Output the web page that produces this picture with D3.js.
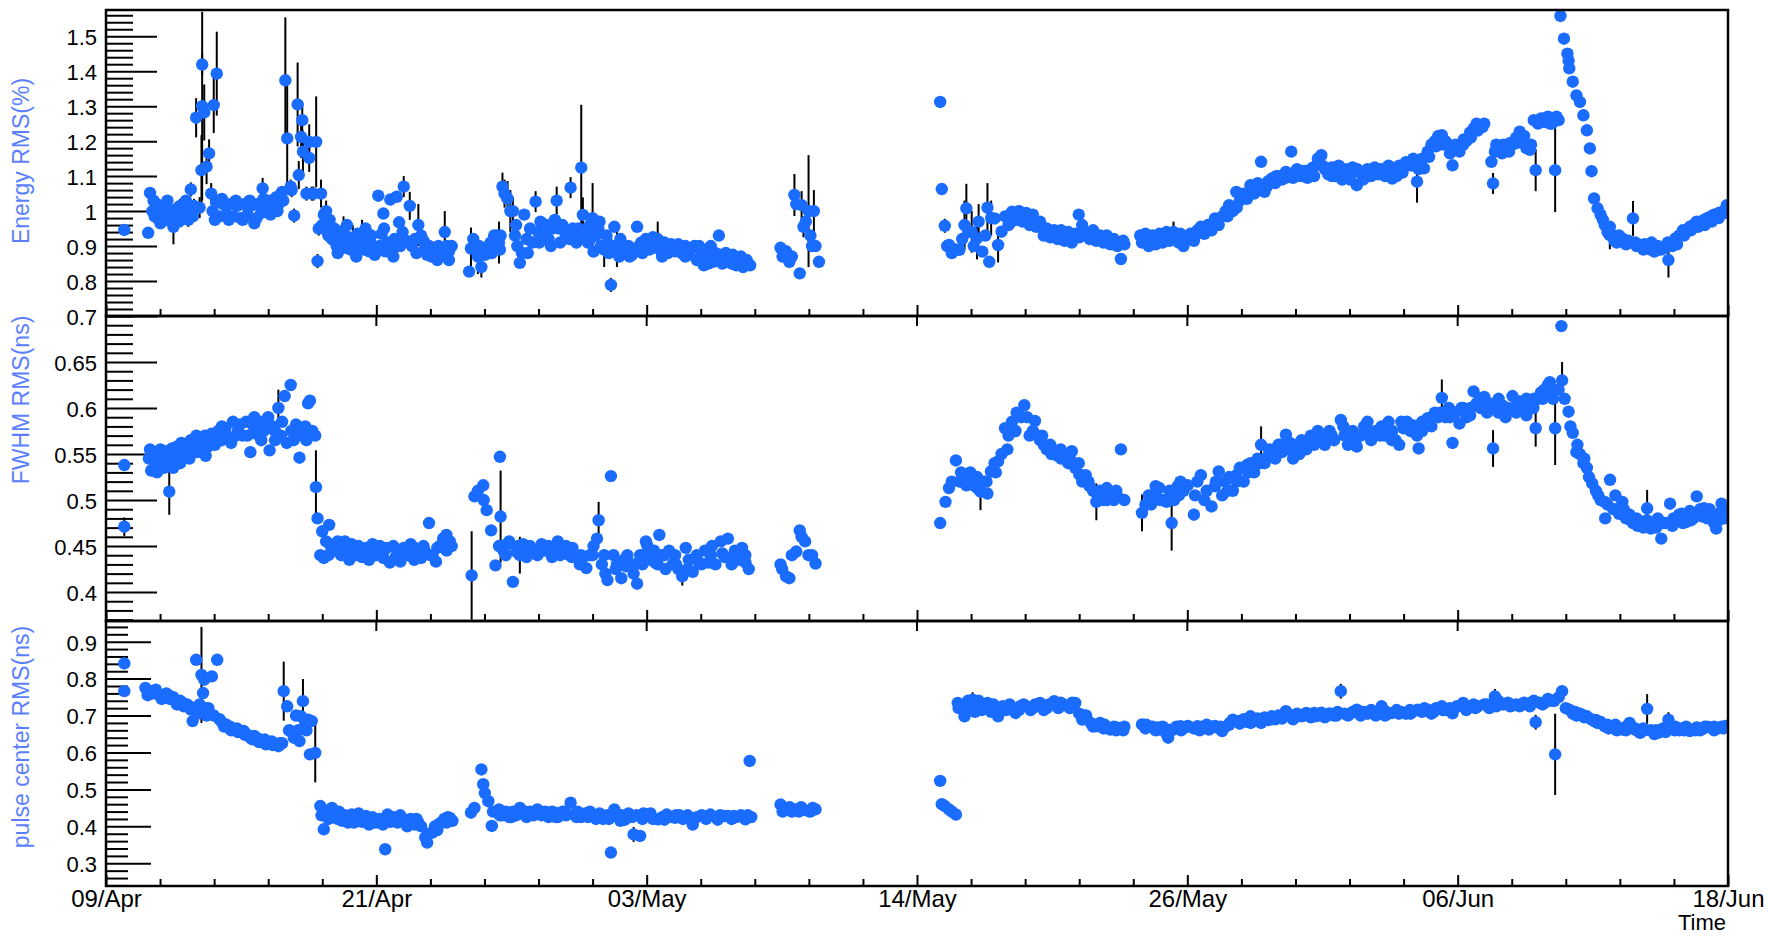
<!DOCTYPE html>
<html><head><meta charset="utf-8">
<script src="https://cdn.jsdelivr.net/npm/d3@7"></script>
<style>
body{margin:0;background:#fff}
svg{display:block}
text{font-family:"Liberation Sans",Arial,Helvetica,sans-serif}
</style>
</head><body>
<svg id="c" width="1768" height="937"></svg>
<script>
// ---- axis / label data ----
const xTickLabels = ["09/Apr","21/Apr","03/May","14/May","26/May","06/Jun","18/Jun"];
const xDomainDays = [0, 70];          // days since 09/Apr
const xTitle = "Time";
const energyTitle = "Energy RMS(%)";
const fwhmTitle = "FWHM RMS(ns)";
const pulseTitle = "pulse center RMS(ns)";
const energyTicks = [0.8,0.9,1,1.1,1.2,1.3,1.4,1.5];
const fwhmTicks = [0.4,0.45,0.5,0.55,0.6,0.65,0.7];
const pulseTicks = [0.3,0.4,0.5,0.6,0.7,0.8,0.9];
const energyRange = [0.7, 1.575];
const fwhmRange = [0.3685, 0.7];
const pulseRange = [0.2385, 0.956];

// ---- series: [day, value, error] ----
const energyRms = [
[0.79,0.946,0.01],[1.82,0.938,0.01],[1.90,1.052,0.01],[2.0,1.0,0.02],[2.1,0.985,0.02],[2.2,1.02,0.02],[2.3,1.0,0.02],[2.4,0.975,0.02],[2.5,1.01,0.02],[2.6,0.99,0.02],[2.73,1.0,0.02],[2.8,0.97,0.02],[2.91,0.955,0.05],[3.0,1.005,0.02],[3.1,0.99,0.02],[3.2,1.015,0.02],[3.3,0.995,0.02],[3.4,1.01,0.02],[3.5,0.99,0.02],[3.55,0.975,0.02],[3.66,1.062,0.02],[3.7,1.0,0.02],[3.8,1.015,0.02],[3.89,1.267,0.056],[4.04,1.01,0.03],[4.12,1.117,0.1],[4.15,1.3,0.27],[4.15,1.419,0.03],[4.24,1.282,0.08],[4.34,1.127,0.05],[4.45,1.165,0.04],[4.54,1.05,0.03],[4.65,1.303,0.08],[4.78,1.393,0.12],
[2.05,1.03],[2.35,0.965],[2.65,1.03],[3.15,0.97],[3.45,1.03],[3.75,0.985],
[4.6,1.0],[4.75,1.025],[4.9,0.985],[5.05,1.02],[5.2,0.99],[5.35,1.02],[5.5,0.985],[5.65,1.015],[5.8,0.98],[5.95,1.02],[6.1,0.99],[6.25,1.015],[6.4,0.965],[6.55,1.02],[6.7,0.995],[6.76,1.065,0.03],[6.85,1.02],[7.0,1.0],[7.1,1.03],[7.25,1.01],[7.35,1.04],[7.45,1.02],[7.55,1.045],[7.65,1.03],
[4.7,0.975],[5.0,1.035],[5.3,0.975],[5.6,1.03],[5.9,0.975],[6.2,1.03],[6.5,0.98],[6.8,1.035],[7.1,0.99],[7.4,1.0],[7.6,1.055],
[7.74,1.374,0.18],[7.82,1.208,0.15],[7.97,1.07,0.02],[8.01,1.06,0.02],[8.12,0.987,0.02],[8.27,1.305,0.12],[8.32,1.103,0.04],[8.42,1.212,0.06],[8.47,1.26,0.05],[8.5,1.17,0.06],[8.65,1.05,0.02],[8.77,1.198,0.05],[8.77,1.152,0.04],[8.88,1.05,0.02],[8.95,1.05,0.02],[9.07,1.198,0.13],[9.13,0.857,0.02],[9.18,0.95,0.02],[9.28,1.05,0.04],
[9.33,0.96],[9.4,0.99],[9.5,1.0,0.03],[9.56,0.94],[9.65,0.975],[9.75,0.92],[9.85,0.95],[9.95,0.9],[10.05,0.935],[10.15,0.91],[10.25,0.945,0.04],[10.35,0.895],[10.45,0.925],[10.55,0.89],[10.65,0.92,0.04],[10.75,0.9],[10.85,0.935],[10.95,0.895],[11.05,0.925,0.05],[11.15,0.89],[11.25,0.915],[11.35,0.885],[11.45,0.93],[11.55,0.9],[11.75,1.044],[11.82,0.9],[11.9,0.935],[11.97,0.993],[12.05,0.885],[12.15,0.91],[12.27,1.033],[12.35,0.89],[12.45,0.92],[12.55,1.041],[12.65,0.968],[12.7,0.9],[12.85,1.07,0.03],[12.95,0.915],[13.11,1.015,0.04],[13.2,0.9],[13.33,0.92],[13.48,0.96,0.06],[13.6,0.93],[13.78,0.895],[13.86,0.875],[13.94,0.9],[14.05,0.87],[14.15,0.895],[14.24,0.88],[14.35,0.9],[14.46,0.87],[14.55,0.89],[14.62,0.94,0.06],[14.7,0.9],[14.8,0.885],[14.92,0.9],
[9.6,0.93],[10.0,0.88],[10.4,0.96],[10.8,0.87],[11.2,0.95],[11.6,0.875],[12.0,0.95],[12.4,0.87],[12.8,0.94],[13.4,0.88],[13.7,0.915],[14.3,0.86],[14.8,0.86],
[15.67,0.827],[15.75,0.893,0.06],[15.85,0.92],[15.95,0.89],[16.05,0.87,0.05],[16.2,0.84,0.03],[16.35,0.875],[16.5,0.9],[16.65,0.88],[16.75,0.93],[16.88,0.93],[16.96,0.91,0.06],[17.03,0.93],[17.11,1.07,0.04],[17.2,1.05,0.04],[17.33,1.036,0.05],[17.45,1.0,0.06],[17.56,1.0,0.04],[17.65,0.93],[17.75,0.9],[17.86,0.852],[17.95,0.88],[18.05,0.99],[18.15,0.92],[18.3,0.95],[18.4,0.91],[18.54,1.027,0.03],[18.65,0.94],[18.75,0.97],[18.9,0.93],[19.0,0.96],[19.1,0.92],[19.25,0.95],[19.37,0.975],[19.45,1.03,0.04],[19.55,0.95],[19.7,0.96],[19.85,0.93],[20.05,1.067,0.03],[20.15,0.95],[20.3,0.91],[20.45,0.93],[20.51,1.124,0.18],[20.58,0.989,0.05],[20.7,0.94],[20.8,0.91],[20.88,0.96],[21.0,0.98,0.1],[21.04,0.884],[21.15,0.93],[21.25,0.95],[21.35,0.9],[21.5,0.89,0.05],[21.6,0.93],[21.64,0.91],[21.79,0.789,0.02],[21.85,0.9],[21.94,0.955],[22.05,0.9,0.06],[22.15,0.87],[22.3,0.9],[22.45,0.88],[22.55,0.9],[22.7,0.875],[22.92,0.955],[23.0,0.9],[23.15,0.88],
[16.1,0.9],[16.6,0.91],[17.0,0.89],[17.7,0.96],[18.2,0.88],[18.7,0.91],[19.2,0.9],[19.6,0.91],[20.0,0.92],[20.4,0.95],[20.9,0.92],[21.3,0.97],[21.7,0.88],[22.2,0.92],[22.6,0.87],[23.1,0.91],
[23.3,0.92],[23.45,0.89],[23.6,0.925],[23.75,0.895],[23.81,0.92,0.05],[23.95,0.89],[24.1,0.91],[24.25,0.88],[24.4,0.905],[24.55,0.885],[24.7,0.905],[24.85,0.88],[25.0,0.9],[25.15,0.875],[25.3,0.895],[25.5,0.86],[25.6,0.9],[25.7,0.875],[25.8,0.845],[25.9,0.88],[26.0,0.87],[26.1,0.9],[26.2,0.855],[26.3,0.88],[26.45,0.93],[26.6,0.85],[26.75,0.88],[26.9,0.86],[27.05,0.875],[27.2,0.845],[27.35,0.865],[27.5,0.84],[27.65,0.86],[27.8,0.845],
[23.5,0.9],[24.0,0.87],[24.5,0.9],[25.0,0.87],[25.4,0.9],[26.0,0.85],[26.5,0.875],[27.0,0.85],[27.4,0.87],[27.7,0.85],
[29.11,0.895],[29.2,0.87],[29.35,0.885],[29.49,0.855],[29.6,0.87],[29.71,1.046,0.06],[29.79,1.02],[29.94,0.822],[30.02,1.017,0.04],[30.1,0.955,0.03],[30.2,0.97],[30.32,1.0,0.16],[30.4,0.93],[30.47,0.9],[30.55,1.0,0.06],[30.62,0.9],[30.77,0.855],
[36.0,1.312,0.01],[36.07,1.063,0.01],[36.2,0.958,0.02],[36.3,0.9],[36.38,0.903],[36.5,0.88],[36.68,0.89],[36.83,0.889],[36.95,0.92],[37.05,0.96,0.07],[37.13,1.008,0.07],[37.21,0.94],[37.36,0.941,0.06],[37.45,0.9],[37.59,0.922,0.06],[37.66,0.97,0.05],[37.82,0.884],[37.95,0.93],[38.04,1.01,0.07],[38.12,0.855],[38.2,0.98,0.05],[38.35,0.979],[38.5,0.903,0.05],[38.65,0.941],[38.8,0.985],[38.95,0.96],[39.1,0.998],[39.25,0.975],[39.41,1.0],[39.55,0.97],[39.71,0.995],[39.86,0.96],[40.0,0.99],[40.15,0.955],[40.31,0.97],[40.47,0.93],[40.6,0.95],[40.75,0.925],[40.92,0.945],[41.07,0.92],[41.22,0.945],[41.37,0.915],[41.53,0.94],[41.68,0.91],[41.83,0.935],[41.98,0.99],[42.13,0.96],[42.28,0.94],[42.45,0.92],[42.6,0.945],[42.74,0.915],[42.9,0.93],[43.05,0.91],[43.19,0.93],[43.34,0.905],[43.5,0.92],[43.65,0.9],[43.8,0.863],[43.95,0.905],
[39.0,0.965],[39.5,0.99],[40.0,0.965],[40.5,0.945],[41.0,0.93],[41.5,0.925],[42.0,0.925],[42.5,0.93],[43.0,0.925],[43.5,0.905],[43.9,0.915],
[44.63,0.93],[44.71,0.91],[44.86,0.935],[45.0,0.9],[45.16,0.93],[45.3,0.905],[45.46,0.935],[45.6,0.91],[45.77,0.94],[45.9,0.915],[46.07,0.94,0.03],[46.2,0.92],[46.37,0.935],[46.5,0.9],[46.68,0.925],
[44.8,0.915],[45.2,0.915],[45.7,0.925],[46.3,0.91],
[46.8,0.935],[46.95,0.915],[47.1,0.945],[47.25,0.955],[47.4,0.935],[47.55,0.96],[47.71,0.945],[47.86,0.979],[48.02,0.96],[48.17,0.985],[48.32,1.0],[48.47,1.017],[48.63,1.0],[48.78,1.055],[48.93,1.03],[49.1,1.05],[49.24,1.035],[49.39,1.074],[49.55,1.05],[49.7,1.08],[49.85,1.141],[50.0,1.055],[50.15,1.085],[50.31,1.093],[50.46,1.08],[50.6,1.1],[50.75,1.09],[50.92,1.112],[51.05,1.1],[51.15,1.17],[51.23,1.095],[51.4,1.12],[51.55,1.1],[51.7,1.115],[51.85,1.095],[52.0,1.12],[52.14,1.1],[52.3,1.15],[52.45,1.16],[52.6,1.12],[52.75,1.105],[52.9,1.125],[53.05,1.1],[53.2,1.13],[53.35,1.09],[53.5,1.12],[53.65,1.105],[53.8,1.125],[53.98,1.074],[54.1,1.11],[54.25,1.09],[54.44,1.12],[54.6,1.1],[54.75,1.125],[54.9,1.105],[55.05,1.12],[55.2,1.1],[55.35,1.13],[55.51,1.093],[55.65,1.12],[55.81,1.13],[55.95,1.11],[56.1,1.14],[56.27,1.131],[56.42,1.15],[56.58,1.084,0.06],[56.65,1.12],[56.88,1.122],[57.04,1.17],[57.2,1.19],[57.35,1.2],[57.5,1.215],[57.65,1.217],[57.8,1.2],[57.95,1.19],[58.11,1.131],[58.25,1.19],[58.41,1.17],[58.57,1.189],[58.7,1.2],[58.87,1.225],[59.02,1.236],[59.15,1.25],[59.33,1.245],[59.48,1.25],[59.79,1.141],[59.86,1.079,0.03],[59.94,1.17],[60.09,1.18],[60.25,1.165],[60.4,1.18],[60.55,1.17],[60.7,1.19],[60.86,1.21],[61.01,1.227],[61.16,1.2],[61.3,1.18],[61.45,1.175],[61.62,1.26],[61.7,1.117,0.06],[61.8,1.25],[61.93,1.265],[62.08,1.255],[62.23,1.27],[62.31,1.25],[62.45,1.26],[62.54,1.117,0.12],[62.69,1.26],
[47.0,0.93],[47.3,0.94],[47.6,0.945],[48.0,0.975],[48.4,0.985],[48.8,1.01],[49.0,1.045],[49.3,1.05],[49.6,1.06],[50.1,1.07],[50.5,1.1],[50.9,1.095],[51.3,1.11],[51.7,1.1],[52.1,1.125],[52.5,1.13],[52.9,1.1],[53.3,1.115],[53.7,1.09],[54.0,1.12],[54.5,1.1],[54.9,1.12],[55.3,1.11],[55.7,1.1],[56.0,1.125],[56.4,1.13],[56.8,1.15],[57.1,1.155],[57.4,1.185],[57.7,1.19],[58.0,1.165],[58.3,1.175],[58.6,1.205],[58.9,1.21],[59.2,1.23],[59.4,1.24],[60.0,1.19],[60.3,1.19],[60.6,1.195],[60.9,1.195],[61.2,1.215],[61.5,1.19],[61.9,1.255],[62.1,1.265],[62.4,1.25],[62.6,1.27],
[62.77,1.558,0.01],[62.92,1.493],[63.07,1.45],[63.12,1.43],[63.15,1.408],[63.3,1.37],[63.46,1.331],[63.61,1.312],[63.76,1.274],[63.91,1.231],[64.04,1.179],[64.11,1.114],[64.22,1.036],[64.37,1.008],[64.5,0.99],[64.68,0.96],[64.8,0.94],[64.9,0.931,0.04],[65.05,0.93],[65.2,0.91],[65.44,0.922],[65.6,0.905],[65.9,0.979,0.05],[66.05,0.9],[66.21,0.903],[66.35,0.89],[66.5,0.9],[66.67,0.89],[66.82,0.884],[66.97,0.9],[67.12,0.89],[67.3,0.895],[67.43,0.86,0.05],[67.6,0.9],[67.73,0.922],[67.89,0.93],[68.05,0.945],[68.19,0.94],[68.35,0.955],[68.5,0.96],[68.65,0.97],[68.8,0.965],[68.96,0.975],[69.1,0.98],[69.26,0.985],[69.4,0.99],[69.6,0.995],[69.8,1.0],[69.95,1.017],
[64.6,0.975],[64.9,0.955],[65.1,0.915],[65.3,0.93],[65.7,0.915],[66.0,0.91],[66.4,0.905],[66.7,0.91],[67.0,0.89],[67.4,0.91],[67.8,0.905],[68.1,0.93],[68.4,0.945],[68.7,0.955],[69.0,0.96],[69.3,0.97],[69.6,0.98],[69.9,0.995]
];

const fwhmRms = [
[0.79,0.538],[0.79,0.471,0.01],
[1.85,0.545],[1.95,0.532],[2.05,0.55],[2.15,0.538],[2.25,0.545],[2.35,0.555],[2.46,0.54],[2.55,0.553],[2.73,0.509,0.025],[2.76,0.545],[2.85,0.556],[2.95,0.545],[3.06,0.558],[3.15,0.55],[3.25,0.562],[3.36,0.548],[3.46,0.56],[3.55,0.552],[3.66,0.565],[3.74,0.555],[3.85,0.56],[3.95,0.552],[4.04,0.566],[4.15,0.556],[4.27,0.57],[4.4,0.558],[4.55,0.572],[4.7,0.56],[4.85,0.575],[5.0,0.565],[5.15,0.578],[5.3,0.568],[5.48,0.585],[5.6,0.57],[5.78,0.582],[5.9,0.57],[6.05,0.585],[6.23,0.552],[6.38,0.58],[6.5,0.572],[6.65,0.585],[6.8,0.575],[6.99,0.578],[7.06,0.554],[7.2,0.58],[7.29,0.575],[7.44,0.6,0.02],[7.55,0.57],[7.71,0.613],[7.8,0.562],[7.97,0.625],[8.1,0.565],[8.2,0.582],[8.35,0.546],[8.5,0.57],[8.65,0.565],[8.72,0.605],[8.8,0.608],[8.9,0.575],[9.03,0.57],
[1.9,0.555],[2.2,0.53],[2.5,0.535],[2.9,0.535],[3.2,0.54],[3.6,0.545],[3.9,0.57],[4.3,0.548],[4.6,0.565],[5.0,0.58],[5.4,0.562],[5.7,0.575],[6.1,0.57],[6.4,0.59],[6.7,0.565],[7.0,0.59],[7.3,0.565],[7.6,0.585],[8.0,0.575],[8.4,0.575],[8.6,0.58],
[9.06,0.514,0.04],[9.13,0.48],[9.25,0.44],[9.33,0.466],[9.4,0.437],[9.5,0.455],[9.63,0.473],[9.7,0.45],[9.85,0.445],[10.0,0.455],[10.15,0.44],[10.31,0.455],[10.45,0.445],[10.6,0.452],[10.75,0.44],[10.9,0.45],[11.05,0.438],[11.22,0.448],[11.35,0.435],[11.5,0.452],[11.65,0.44],[11.82,0.45],[11.97,0.437],[12.1,0.448],[12.25,0.432],[12.4,0.45],[12.58,0.444],[12.7,0.433],[12.85,0.448],[13.0,0.44],[13.15,0.452],[13.33,0.448],[13.48,0.44],[13.6,0.437],[13.75,0.445],[13.94,0.475],[14.09,0.44],[14.24,0.433],[14.4,0.45],[14.55,0.458],[14.69,0.462],[14.84,0.455],[14.92,0.45],
[9.6,0.44],[10.1,0.45],[10.5,0.435],[10.9,0.44],[11.3,0.445],[11.7,0.448],[12.0,0.445],[12.5,0.438],[12.9,0.44],[13.3,0.435],[13.7,0.45],[14.0,0.44],[14.3,0.448],[14.7,0.445],
[15.78,0.418,0.048],[15.9,0.504],[16.05,0.51],[16.28,0.516],[16.3,0.5],[16.43,0.489],[16.62,0.467],[16.81,0.429],[16.96,0.45],[17.0,0.547],[17.03,0.482,0.05],[17.15,0.445],[17.25,0.44],[17.4,0.455],[17.56,0.411],[17.7,0.444],[17.86,0.44,0.02],[18.0,0.452],[18.15,0.438],[18.3,0.45],[18.45,0.442],[18.62,0.44],[18.8,0.452],[18.95,0.445],[19.1,0.45],[19.25,0.438],[19.37,0.448],[19.5,0.455],[19.7,0.445],[19.85,0.45],[20.0,0.44],[20.13,0.448],[20.3,0.44],[20.45,0.43],[20.6,0.438],[20.73,0.426],[20.88,0.44],[21.04,0.45],[21.19,0.458],[21.26,0.478,0.02],[21.4,0.43],[21.55,0.42],[21.64,0.413],[21.79,0.526],[21.9,0.44],[22.05,0.43],[22.24,0.415],[22.35,0.435],[22.5,0.44],[22.65,0.43],[22.77,0.42],[22.92,0.409],[23.05,0.44],[23.15,0.43],[23.3,0.455],
[17.3,0.452],[17.8,0.45],[18.2,0.445],[18.7,0.445],[19.2,0.443],[19.6,0.44],[20.1,0.438],[20.5,0.44],[21.0,0.44],[21.5,0.44],[22.0,0.425],[22.45,0.428],[22.8,0.43],[23.2,0.44],
[23.35,0.451],[23.5,0.435],[23.65,0.445],[23.81,0.43],[23.88,0.462],[24.0,0.44],[24.15,0.425],[24.3,0.445],[24.45,0.43],[24.56,0.44],[24.7,0.425],[24.87,0.417,0.01],[25.02,0.448],[25.15,0.435],[25.32,0.422],[25.5,0.44],[25.7,0.43],[25.85,0.445],[26.0,0.432],[26.15,0.45],[26.3,0.43],[26.53,0.455],[26.7,0.438],[26.84,0.458],[27.0,0.43],[27.14,0.445],[27.3,0.435],[27.45,0.448],[27.59,0.44],[27.74,0.425],
[23.7,0.432],[24.1,0.44],[24.6,0.43],[25.1,0.425],[25.6,0.432],[26.1,0.44],[26.6,0.442],[27.1,0.44],[27.6,0.432],
[29.11,0.43],[29.18,0.425],[29.35,0.417],[29.49,0.415],[29.6,0.44],[29.79,0.444],[29.94,0.467],[30.02,0.46],[30.17,0.455],[30.32,0.44],[30.47,0.44],[30.62,0.431],
[36.0,0.475],[36.23,0.498],[36.38,0.513],[36.5,0.52],[36.68,0.543],[36.83,0.52],[36.98,0.52],[37.13,0.516],[37.3,0.53],[37.44,0.516],[37.59,0.525],[37.74,0.509,0.02],[37.9,0.52],[38.04,0.507],[38.19,0.531],[38.35,0.54],[38.5,0.542],[38.65,0.55],[38.8,0.578],[38.95,0.57],[39.1,0.585],[39.25,0.575],[39.41,0.592],[39.63,0.603],[39.75,0.59],[39.86,0.57],[40.09,0.586],[40.2,0.57],[40.31,0.565],[40.47,0.56],[40.6,0.555],[40.75,0.56],[40.92,0.55],[41.07,0.548],[41.22,0.545],[41.37,0.55],[41.53,0.54],[41.68,0.553],[41.83,0.535],[41.98,0.54],[42.13,0.52],[42.28,0.527],[42.45,0.515],[42.6,0.51],[42.74,0.498,0.02],[42.9,0.51],[43.05,0.5],[43.19,0.513],[43.34,0.505],[43.5,0.5],[43.65,0.504],[43.8,0.555],[43.95,0.5],
[36.9,0.53],[37.2,0.525],[37.6,0.513],[38.0,0.52],[38.4,0.53],[38.9,0.555],[39.3,0.595],[39.5,0.59],[40.0,0.575],[40.4,0.57],[40.8,0.55],[41.2,0.555],[41.6,0.545],[42.0,0.528],[42.4,0.52],[42.8,0.505],[43.2,0.5],[43.6,0.51],
[44.71,0.486,0.02],[44.86,0.495],[45.0,0.505],[45.16,0.505],[45.3,0.515],[45.46,0.513],[45.6,0.5],[45.77,0.498],[45.9,0.51],[45.99,0.475,0.03],[46.1,0.5],[46.25,0.515],[46.37,0.52],[46.5,0.51],[46.68,0.516],
[45.1,0.495],[45.5,0.5],[45.9,0.5],[46.3,0.505],
[46.95,0.484],[47.1,0.52],[47.25,0.527],[47.4,0.5],[47.71,0.493],[47.86,0.515],[48.02,0.531],[48.17,0.505],[48.3,0.52],[48.47,0.525],[48.63,0.51],[48.78,0.527],[48.93,0.535],[49.1,0.52],[49.24,0.538],[49.39,0.54],[49.55,0.53],[49.7,0.545],[49.85,0.56,0.02],[50.0,0.54],[50.15,0.548],[50.31,0.552],[50.46,0.545],[50.6,0.56],[50.75,0.552],[50.92,0.571],[51.05,0.555],[51.23,0.545],[51.4,0.56],[51.6,0.565],[51.8,0.555],[52.0,0.57],[52.14,0.56],[52.3,0.575],[52.45,0.565],[52.6,0.56],[52.8,0.575],[53.0,0.565],[53.29,0.587],[53.45,0.57],[53.6,0.56],[53.8,0.575],[53.98,0.558],[54.15,0.57],[54.3,0.58],[54.44,0.585],[54.6,0.565],[54.8,0.575],[55.05,0.58],[55.2,0.57],[55.35,0.585],[55.51,0.575],[55.65,0.565],[55.81,0.56],[56.0,0.578],[56.15,0.585],[56.42,0.581],[56.58,0.57],[56.65,0.556],[56.8,0.585],[57.04,0.589],[57.2,0.58],[57.35,0.595],[57.5,0.59],[57.65,0.611,0.02],[57.8,0.59],[57.95,0.6],[58.11,0.562],[58.25,0.595],[58.41,0.583],[58.57,0.6],[58.72,0.59],[58.87,0.592],[59.02,0.618],[59.15,0.605],[59.33,0.6],[59.48,0.612],[59.6,0.595],[59.86,0.556,0.02],[59.94,0.6],[60.09,0.595],[60.25,0.603],[60.4,0.59],[60.55,0.598],[60.7,0.613],[60.86,0.595],[61.01,0.607],[61.16,0.6],[61.3,0.592],[61.45,0.605],[61.62,0.61],[61.7,0.578,0.02],[61.8,0.61],[61.93,0.617],[62.08,0.62],[62.23,0.625],[62.31,0.628],[62.45,0.61],[62.54,0.578,0.04],[62.69,0.62],[62.81,0.689],[62.84,0.63,0.02],[62.95,0.61],[63.12,0.596],[63.3,0.573],[63.46,0.552],[63.6,0.55],[63.76,0.54],[63.91,0.535],[64.14,0.518],[64.3,0.51],[64.5,0.5],[64.68,0.498],[64.7,0.48],[64.91,0.522],[65.05,0.49],[65.14,0.505],[65.3,0.485],[65.44,0.498],[65.6,0.48],[65.75,0.484],[65.9,0.475],[66.05,0.48],[66.21,0.476],[66.35,0.47],[66.51,0.491,0.02],[66.67,0.469],[66.82,0.476],[66.97,0.48],[67.12,0.458],[67.3,0.475],[67.5,0.496],[67.65,0.48],[67.89,0.484],[68.05,0.475],[68.19,0.476],[68.35,0.488],[68.5,0.48],[68.65,0.504],[68.8,0.49],[68.96,0.491],[69.1,0.48],[69.26,0.484],[69.4,0.475],[69.49,0.469],[69.6,0.485],[69.72,0.496],[69.85,0.48],[69.95,0.487],
[47.0,0.505],[47.5,0.51],[47.9,0.52],[48.4,0.51],[48.8,0.52],[49.3,0.53],[49.8,0.54],[50.2,0.555],[50.7,0.56],[51.1,0.562],[51.5,0.55],[51.9,0.565],[52.4,0.57],[52.9,0.57],[53.4,0.58],[53.9,0.565],[54.5,0.575],[55.0,0.57],[55.5,0.565],[55.9,0.585],[56.3,0.575],[56.8,0.575],[57.2,0.59],[57.6,0.595],[58.0,0.59],[58.5,0.6],[58.9,0.6],[59.3,0.61],[59.7,0.605],[60.1,0.61],[60.5,0.6],[60.9,0.605],[61.3,0.61],[61.6,0.6],[62.0,0.61],[62.4,0.617],
[63.2,0.58],[63.5,0.56],[63.8,0.545],[64.0,0.525],[64.4,0.505],[64.8,0.495],[65.2,0.49],[65.5,0.49],[65.8,0.478],[66.1,0.472],[66.5,0.478],[66.9,0.47],[67.2,0.475],[67.6,0.472],[68.0,0.485],[68.4,0.478],[68.9,0.482],[69.2,0.49],[69.6,0.478],[69.9,0.492]
];

const pulseRms = [
[0.79,0.841],[0.79,0.766],[1.7,0.775],[1.85,0.766],[2.0,0.76],[2.15,0.77],[2.3,0.755],[2.46,0.752],[2.6,0.76],[2.76,0.745],[2.9,0.75],[3.06,0.73],[3.2,0.74],[3.36,0.725],[3.5,0.73],[3.66,0.716],[3.74,0.685],[3.85,0.72],[3.89,0.851],[4.04,0.73],[4.12,0.81,0.13],[4.19,0.761],[4.24,0.797],[4.34,0.7],[4.42,0.72],[4.57,0.806],[4.65,0.7],[4.8,0.851],[4.9,0.69],[5.02,0.68],[5.2,0.675],[5.35,0.67],[5.48,0.662],[5.65,0.665],[5.8,0.655],[5.95,0.658],[6.1,0.648],[6.23,0.64],[6.4,0.645],[6.55,0.638],[6.7,0.632],[6.85,0.635],[6.99,0.626],[7.15,0.63],[7.29,0.622],[7.44,0.617],[7.6,0.625],[7.67,0.766,0.08],[7.82,0.725],[7.97,0.658],[8.1,0.64],[8.2,0.7],[8.35,0.631],[8.42,0.698],[8.5,0.739,0.06],[8.6,0.68],[8.65,0.66],[8.72,0.689],[8.8,0.595],[8.88,0.685],[9.03,0.599,0.08],
[1.8,0.755],[2.1,0.76],[2.4,0.745],[2.7,0.755],[3.0,0.74],[3.3,0.735],[3.6,0.725],[3.95,0.705],[4.3,0.72],[5.1,0.67],[5.4,0.66],[5.7,0.655],[6.0,0.648],[6.3,0.636],[6.6,0.628],[6.9,0.622],[7.2,0.62],[7.5,0.625],[7.9,0.66],[8.3,0.66],
[9.25,0.455],[9.3,0.43],[9.4,0.392],[9.5,0.44],[9.6,0.42],[9.75,0.45],[9.9,0.425],[10.05,0.44],[10.2,0.415],[10.31,0.43],[10.45,0.41],[10.6,0.432],[10.75,0.42],[10.9,0.435],[11.05,0.412],[11.22,0.428],[11.35,0.405],[11.5,0.425],[11.65,0.41],[11.82,0.42],[11.95,0.405],[12.05,0.338],[12.15,0.432],[12.27,0.412],[12.4,0.425],[12.58,0.41],[12.7,0.43],[12.88,0.418],[13.0,0.4],[13.15,0.42],[13.33,0.405],[13.48,0.41],[13.6,0.4],[13.78,0.37],[13.86,0.356],[13.94,0.38],[14.09,0.383],[14.2,0.4],[14.35,0.405],[14.46,0.41],[14.6,0.42],[14.75,0.425],[14.84,0.423],[14.95,0.415],
[9.45,0.43],[9.7,0.425],[10.0,0.42],[10.4,0.42],[10.7,0.41],[11.1,0.42],[11.5,0.41],[11.9,0.415],[12.3,0.425],[12.65,0.415],[13.1,0.41],[13.4,0.42],[14.3,0.39],[14.7,0.41],
[15.75,0.437],[15.9,0.45],[16.2,0.554],[16.28,0.514],[16.35,0.49],[16.5,0.468],[16.65,0.401],[16.7,0.44],[16.96,0.446],[17.1,0.43],[17.25,0.44],[17.4,0.425],[17.56,0.44],[17.7,0.43],[17.86,0.45],[18.0,0.435],[18.15,0.425],[18.3,0.44],[18.45,0.43],[18.62,0.446],[18.8,0.43],[18.95,0.44],[19.1,0.425],[19.25,0.44],[19.37,0.437],[19.5,0.425],[19.7,0.44],[19.85,0.43],[20.05,0.464],[20.2,0.432],[20.35,0.44],[20.5,0.425],[20.7,0.435],[20.88,0.44],[21.0,0.43],[21.15,0.42],[21.3,0.435],[21.45,0.42],[21.64,0.43],[21.79,0.329],[21.94,0.446],[22.1,0.425],[22.24,0.43],[22.4,0.418],[22.55,0.435],[22.77,0.378,0.02],[22.9,0.43],[23.05,0.428],[23.15,0.42],[23.3,0.433],
[17.0,0.43],[17.5,0.425],[18.1,0.44],[18.5,0.44],[19.0,0.43],[19.4,0.425],[19.8,0.44],[20.3,0.425],[20.8,0.425],[21.2,0.43],[21.7,0.42],[22.2,0.415],[22.7,0.425],[23.2,0.435],
[23.05,0.374],[23.4,0.428],[23.6,0.42],[23.81,0.419],[24.0,0.425],[24.2,0.432],[24.4,0.425],[24.56,0.423],[24.75,0.43],[24.9,0.42],[25.1,0.43],[25.32,0.405],[25.5,0.425],[25.7,0.43],[25.9,0.42],[26.08,0.432],[26.3,0.425],[26.5,0.43],[26.7,0.428],[26.84,0.428],[27.0,0.42],[27.2,0.425],[27.4,0.43],[27.59,0.419],[27.78,0.577],[27.85,0.425],
[23.5,0.435],[24.1,0.418],[24.6,0.43],[25.2,0.42],[25.8,0.428],[26.4,0.418],[27.1,0.428],[27.7,0.43],
[29.11,0.459],[29.3,0.45],[29.5,0.452],[29.71,0.446],[29.9,0.44],[30.1,0.445],[30.32,0.441],[30.5,0.45],[30.62,0.446],
[29.2,0.44],[29.6,0.44],[30.0,0.452],[30.4,0.44],
[36.0,0.523],[36.07,0.46],[36.2,0.455],[36.38,0.446],[36.5,0.44],[36.68,0.432],[36.76,0.734],[36.9,0.72],[37.05,0.698],[37.2,0.74],[37.21,0.72],[37.4,0.743,0.02],[37.5,0.71],[37.66,0.74],[37.8,0.715],[38.04,0.734],[38.2,0.71],[38.35,0.72],[38.5,0.698],[38.7,0.725],[38.85,0.715],[39.0,0.73],[39.25,0.707],[39.45,0.725],[39.6,0.73],[39.71,0.725],[39.9,0.715],[40.1,0.73],[40.31,0.734],[40.47,0.715],[40.7,0.73],[40.92,0.739],[41.1,0.72],[41.3,0.73],[41.53,0.725],[41.7,0.735],[41.83,0.734],[42.0,0.705],[42.13,0.689],[42.3,0.7],[42.5,0.68],[42.74,0.671],[42.9,0.68],[43.05,0.665],[43.19,0.667],[43.34,0.662],[43.5,0.67],[43.65,0.667],[43.8,0.665],[43.95,0.67],
[36.8,0.72],[37.3,0.735],[37.9,0.725],[38.3,0.73],[38.9,0.72],[39.4,0.715],[40.0,0.72],[40.6,0.72],[41.2,0.735],[41.6,0.72],[42.2,0.7],[42.6,0.67],[43.1,0.675],[43.6,0.66],[43.9,0.66],
[44.71,0.676],[44.86,0.665],[45.0,0.67],[45.16,0.67],[45.3,0.66],[45.46,0.662],[45.6,0.67],[45.77,0.65],[45.84,0.64],[46.0,0.66],[46.2,0.67],[46.37,0.671],[46.5,0.665],[46.68,0.672],
[44.9,0.675],[45.4,0.668],[45.9,0.662],[46.4,0.66],
[46.75,0.67],[46.95,0.665],[47.1,0.671],[47.3,0.67],[47.5,0.675],[47.71,0.67],[47.86,0.672],[48.02,0.665],[48.17,0.658],[48.32,0.67],[48.47,0.675],[48.63,0.689],[48.78,0.685],[48.93,0.678],[49.1,0.69],[49.24,0.683],[49.39,0.698],[49.55,0.685],[49.7,0.692],[49.85,0.68],[50.0,0.695],[50.15,0.688],[50.31,0.698],[50.46,0.69],[50.6,0.7],[50.75,0.692],[50.92,0.712],[51.1,0.7],[51.23,0.69],[51.4,0.705],[51.6,0.698],[51.8,0.707],[52.0,0.695],[52.14,0.707],[52.3,0.7],[52.45,0.708],[52.6,0.695],[52.8,0.706],[53.0,0.7],[53.15,0.71],[53.29,0.766,0.02],[53.45,0.705],[53.6,0.7],[53.8,0.71],[53.98,0.716],[54.15,0.7],[54.3,0.71],[54.44,0.705],[54.6,0.715],[54.8,0.7],[55.05,0.725],[55.2,0.712],[55.35,0.705],[55.51,0.707],[55.7,0.715],[55.9,0.71],[56.1,0.705],[56.27,0.715],[56.42,0.711],[56.6,0.716],[56.8,0.71],[57.04,0.716],[57.2,0.705],[57.4,0.72],[57.65,0.725],[57.8,0.715],[58.0,0.72],[58.11,0.706],[58.3,0.725],[58.57,0.734],[58.8,0.72],[59.02,0.73],[59.2,0.725],[59.48,0.73],[59.7,0.72],[59.94,0.752,0.02],[60.09,0.74],[60.3,0.73],[60.5,0.735],[60.7,0.727],[60.86,0.73],[61.01,0.725],[61.2,0.735],[61.45,0.725],[61.62,0.74],[61.7,0.682,0.02],[61.85,0.735],[62.0,0.73],[62.23,0.745],[62.4,0.74],[62.54,0.595,0.11],[62.7,0.75],[62.84,0.766],[63.0,0.72],[63.15,0.716],[63.3,0.705],[63.46,0.7],[63.61,0.705],[63.76,0.7],[63.91,0.698],[64.1,0.69],[64.22,0.685],[64.37,0.68],[64.5,0.683],[64.68,0.671],[64.85,0.665],[65.0,0.67],[65.14,0.675],[65.3,0.665],[65.44,0.662],[65.6,0.67],[65.75,0.68],[65.9,0.665],[66.05,0.66],[66.21,0.653],[66.35,0.665],[66.51,0.718,0.04],[66.67,0.66],[66.82,0.65],[66.97,0.653],[67.12,0.66],[67.3,0.655],[67.43,0.689,0.02],[67.6,0.665],[67.73,0.67],[67.9,0.66],[68.05,0.665],[68.19,0.67],[68.35,0.658],[68.5,0.662],[68.65,0.668],[68.8,0.66],[68.96,0.665],[69.1,0.67],[69.26,0.668],[69.4,0.66],[69.55,0.665],[69.72,0.67],[69.9,0.672],
[47.2,0.66],[47.6,0.662],[48.1,0.67],[48.5,0.68],[48.9,0.685],[49.4,0.68],[49.8,0.69],[50.3,0.69],[50.8,0.7],[51.3,0.695],[51.7,0.7],[52.2,0.698],[52.7,0.7],[53.1,0.7],[53.7,0.705],[54.2,0.71],[54.7,0.705],[55.2,0.7],[55.8,0.705],[56.3,0.705],[56.9,0.72],[57.3,0.71],[57.7,0.715],[58.2,0.72],[58.7,0.715],[59.1,0.72],[59.6,0.73],[60.0,0.725],[60.6,0.725],[61.1,0.73],[61.5,0.735],[62.1,0.735],[62.5,0.74],
[63.4,0.71],[63.8,0.695],[64.3,0.688],[64.8,0.675],[65.2,0.66],[65.6,0.66],[66.0,0.665],[66.4,0.66],[66.9,0.66],[67.2,0.665],[67.7,0.66],[68.1,0.66],[68.6,0.66],[69.0,0.67],[69.4,0.67],[69.8,0.665]
];

// ---- drawing ----
const svg = d3.select("#c");
const X0 = 106, X1 = 1728;
const MARKER = "#1a6cff", TITLE = "#5b7fff";
const x = d3.scaleLinear().domain(xDomainDays).range([X0, X1]);
const nDiv = xTickLabels.length - 1;
const span = xDomainDays[1] - xDomainDays[0];
const majorDays = d3.range(nDiv + 1).map(i => xDomainDays[0] + i * span / nDiv);
const minorDays = d3.range(nDiv * 5 + 1).filter(i => i % 5 !== 0).map(i => xDomainDays[0] + i * span / (nDiv * 5));

const panels = [
  {data: energyRms, title: energyTitle, ticks: energyTicks, domain: energyRange, step: 0.02, top: 10, bottom: 316, major: 51, minor: 27, tc: 161, below: true},
  {data: fwhmRms, title: fwhmTitle, ticks: fwhmTicks, domain: fwhmRange, step: 0.01, top: 316, bottom: 621, major: 51, minor: 27, tc: 400, below: true},
  {data: pulseRms, title: pulseTitle, ticks: pulseTicks, domain: pulseRange, step: 0.02, top: 621, bottom: 886, major: 45, minor: 22, tc: 737, below: false}
];

panels.forEach((p, pi) => {
  const y = d3.scaleLinear().domain(p.domain).range([p.bottom, p.top]);
  const g = svg.append("g");
  const k0 = Math.ceil(p.domain[0] / p.step - 1e-6), k1 = Math.floor(p.domain[1] / p.step + 1e-6);
  const minorVals = d3.range(k0, k1 + 1).map(k => +(k * p.step).toFixed(4))
    .filter(v => !p.ticks.some(t => Math.abs(t - v) < 1e-6));

  g.append("g").attr("transform", `translate(${X0},0)`)
    .call(d3.axisLeft(y).tickValues(minorVals).tickSizeInner(-p.minor).tickSizeOuter(0).tickFormat(""))
    .call(a => a.select(".domain").remove());
  g.append("g").attr("transform", `translate(${X0},0)`)
    .call(d3.axisLeft(y).tickValues(p.ticks).tickSizeInner(-p.major).tickSizeOuter(0).tickPadding(9).tickFormat(d => String(d)))
    .call(a => a.select(".domain").remove())
    .call(a => a.selectAll("text").attr("font-size", 22).attr("fill", "#000").attr("dy", "0.38em").attr("font-family", "Liberation Sans, Arial, sans-serif"));

  g.append("g").attr("transform", `translate(0,${p.bottom})`)
    .call(d3.axisBottom(x).tickValues(minorDays).tickSizeInner(-7).tickSizeOuter(0).tickFormat(""))
    .call(a => a.select(".domain").remove());
  g.append("g").attr("transform", `translate(0,${p.bottom})`)
    .call(d3.axisBottom(x).tickValues(majorDays).tickSizeInner(-11).tickSizeOuter(0).tickPadding(4)
      .tickFormat(pi === panels.length - 1 ? (d, i) => xTickLabels[i] : ""))
    .call(a => a.select(".domain").remove())
    .call(a => a.selectAll("text").attr("font-size", 24).attr("fill", "#000").attr("font-family", "Liberation Sans, Arial, sans-serif"));
  if (p.below) {
    g.append("g").selectAll("line").data(majorDays).join("line")
      .attr("x1", d => x(d)).attr("x2", d => x(d))
      .attr("y1", p.bottom).attr("y2", p.bottom + 10)
      .attr("stroke", "#000").attr("stroke-width", 2);
  }
  g.selectAll(".tick line").attr("stroke", "#000").attr("stroke-width", 2);

  const cid = "clip" + pi;
  svg.append("clipPath").attr("id", cid).append("rect")
    .attr("x", X0).attr("y", p.top).attr("width", X1 - X0).attr("height", p.bottom - p.top);
  const dg = svg.append("g").attr("clip-path", `url(#${cid})`);
  dg.selectAll("line.err").data(p.data.filter(d => d[2])).join("line").attr("class", "err")
    .attr("x1", d => x(d[0])).attr("x2", d => x(d[0]))
    .attr("y1", d => y(d[1] - d[2])).attr("y2", d => y(d[1] + d[2]))
    .attr("stroke", "#000").attr("stroke-width", 2);
  dg.selectAll("circle").data(p.data).join("circle")
    .attr("cx", d => x(d[0])).attr("cy", d => y(d[1])).attr("r", 6.2)
    .attr("fill", MARKER);

  svg.append("rect").attr("x", X0).attr("y", p.top).attr("width", X1 - X0).attr("height", p.bottom - p.top)
    .attr("fill", "none").attr("stroke", "#000").attr("stroke-width", 2.5);

  svg.append("text").attr("transform", `translate(29,${p.tc}) rotate(-90)`)
    .attr("text-anchor", "middle").attr("font-size", 23).attr("fill", TITLE).text(p.title);
});

svg.append("text").attr("x", 1726).attr("y", 930).attr("text-anchor", "end")
  .attr("font-size", 22).attr("fill", "#000").text(xTitle);
</script>
</body></html>
